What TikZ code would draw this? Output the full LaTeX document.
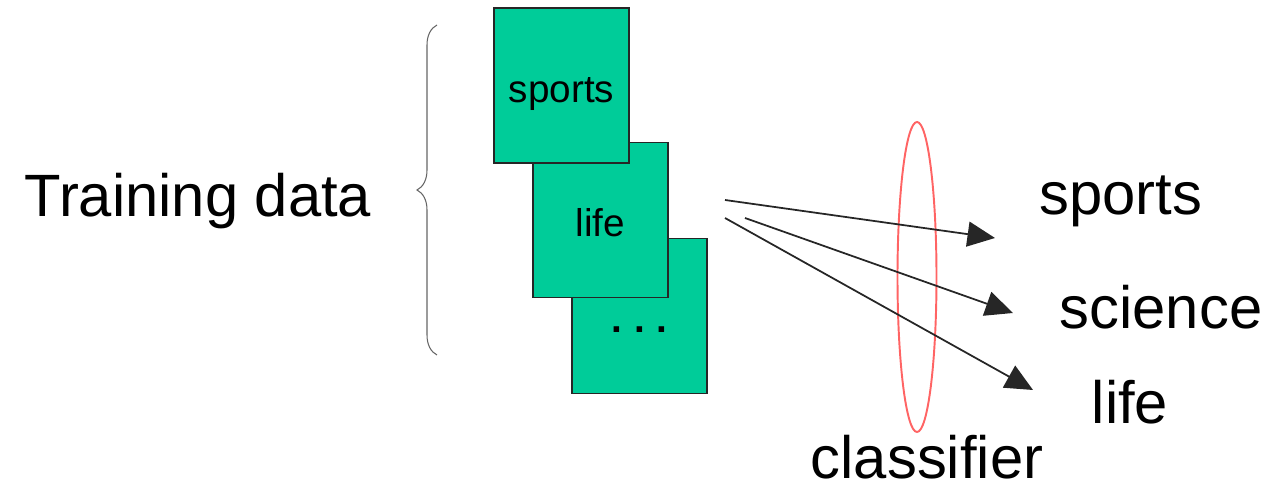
\documentclass[tikz,border=0pt]{standalone}
\usepackage{fontspec}
\setmainfont{Liberation Sans}
\usepackage{tikz}
\usetikzlibrary{positioning,shapes.geometric,decorations.pathreplacing,arrows.meta}
\definecolor{docgreen}{RGB}{0,204,153}
\definecolor{clsred}{RGB}{255,100,100}

\begin{document}
\begin{tikzpicture}[
  doc/.style={
   draw=black!85,
   fill=docgreen,
   line width=0.8pt,
   minimum width=2.7cm,
   minimum height=3.1cm,
   text height=24pt,
   text depth=5pt,
   font=\fontsize{22}{26}\selectfont
  },
  big/.style={
   font=\fontsize{34}{40}\selectfont
  },
  arr/.style={
   draw=black!85,
   line width=1pt,
   -{Triangle[length=0.55cm,width=0.5cm]}
  }]
  \useasboundingbox (0,0) rectangle (25.42,9.76);

  % training documents, back to front
  \node[doc] (d3) at (12.79,3.44) {\textbf{.\hspace{0.3em}.\hspace{0.3em}.}};
  \node[doc] (d2) at (12.01,5.36) {life};
  \node[doc] (d1) at (11.23,8.05) {sports};

  \node[big] (train) at (3.96,5.74) {Training data};
  \draw[black!60,line width=0.6pt,decorate,decoration={brace,amplitude=0.4cm}]
    (8.74,2.66) -- (8.74,9.26);

  % classifier
  \node[draw=clsred,line width=1.1pt,ellipse,minimum width=0.78cm,minimum height=6.2cm,inner sep=0pt]
    (clf) at (18.34,4.22) {};
  \node[big,anchor=base,inner sep=0pt] (clfname) at (18.54,0.18) {classifier};

  % categories
  \node[big] (c1) at (22.42,5.74) {sports};
  \node[big] (c2) at (23.22,3.62) {science};
  \node[big] (c3) at (22.6,1.72) {life};

  \coordinate (s1) at (14.5,5.76);
  \coordinate (s2) at (14.9,5.4);
  \coordinate (s3) at (14.5,5.4);
  \coordinate (e1) at (19.9,5.0);
  \coordinate (e2) at (20.26,3.5);
  \coordinate (e3) at (20.66,1.96);

  \draw[arr] (s1) -- (e1);
  \draw[arr] (s2) -- (e2);
  \draw[arr] (s3) -- (e3);
\end{tikzpicture}
\end{document}
